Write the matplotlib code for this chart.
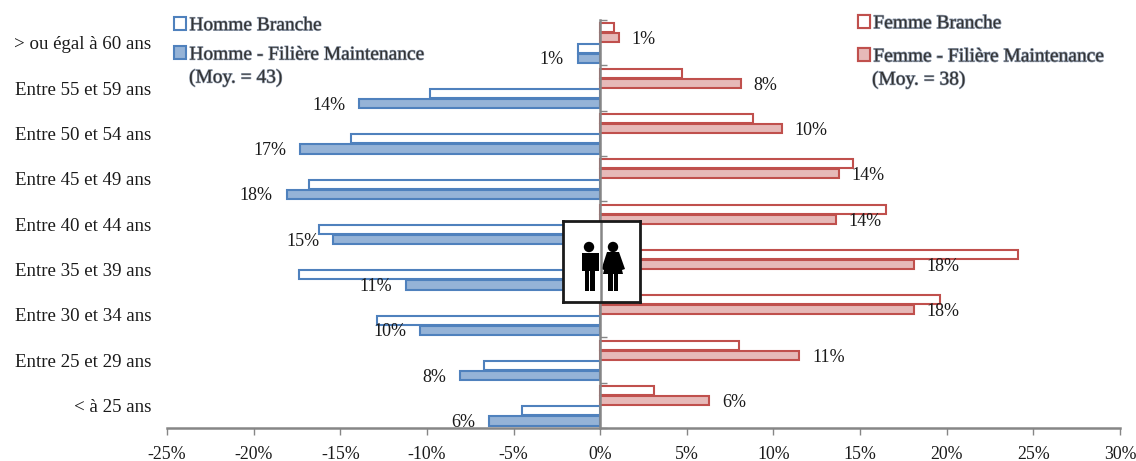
import matplotlib
matplotlib.use("Agg")
import matplotlib.pyplot as plt
import matplotlib.patheffects as pe
from matplotlib.patches import Patch, Circle, Rectangle, Polygon
from matplotlib.ticker import FuncFormatter

plt.rcParams['font.family'] = ['Liberation Serif', 'DejaVu Serif']

categories = ["> ou égal à 60 ans", "Entre 55 et 59 ans", "Entre 50 et 54 ans", "Entre 45 et 49 ans",
              "Entre 40 et 44 ans", "Entre 35 et 39 ans", "Entre 30 et 34 ans", "Entre 25 et 29 ans", "< à 25 ans"]
femme_branche = [0.8, 4.7, 8.8, 14.6, 16.5, 24.1, 19.6, 8.0, 3.1]
femme_filiere = [1.1, 8.1, 10.5, 13.8, 13.6, 18.1, 18.1, 11.5, 6.3]
homme_branche = [-1.3, -9.8, -14.4, -16.8, -16.2, -17.4, -12.9, -6.7, -4.5]
homme_filiere = [-1.3, -13.9, -17.3, -18.1, -15.4, -11.2, -10.4, -8.1, -6.4]
femme_labels = ["1%", "8%", "10%", "14%", "14%", "18%", "18%", "11%", "6%"]
homme_labels = ["1%", "14%", "17%", "18%", "15%", "11%", "10%", "8%", "6%"]
xticks = [-25, -20, -15, -10, -5, 0, 5, 10, 15, 20, 25, 30]

W, H = 1136, 461
BLUE, BLUE_F = "#4F81BD", "#95B3D7"
RED, RED_F = "#C0504D", "#E6B9B8"
GREY = "#868686"
TXT = "#1a1a1a"

fig = plt.figure(figsize=(W / 100, H / 100), dpi=100)
ax = fig.add_axes([167 / W, 1 - 428 / H, (1120 - 167) / W, (428 - 20) / H])
ypos = list(range(len(categories)))
h = 0.2
s = dict(height=h, linewidth=1.5, zorder=2)
ax.barh([y - 0.33 for y in ypos], femme_branche, color="white", edgecolor=RED, **s)
ax.barh([y - 0.105 for y in ypos], femme_filiere, color=RED_F, edgecolor=RED, **s)
ax.barh([y + 0.12 for y in ypos], homme_branche, color="white", edgecolor=BLUE, **s)
ax.barh([y + 0.345 for y in ypos], homme_filiere, color=BLUE_F, edgecolor=BLUE, **s)

ax.set_xlim(-25, 30)
ax.set_ylim(8.5, -0.5)
ax.set_xticks(xticks)
ax.xaxis.set_major_formatter(FuncFormatter(lambda v, _: f"{v:.0f}%"))
ax.tick_params(axis='x', length=5, width=1, color=GREY, labelsize=12.8, labelcolor=TXT, pad=8)
ax.set_yticks([y - 0.5 for y in ypos] + [8.5])
ax.tick_params(axis='y', direction='in', length=5, width=1, color=GREY, labelleft=False)
for sp in ['top', 'right']:
    ax.spines[sp].set_visible(False)
ax.spines['left'].set_position(('data', 0))
for sp in ['left', 'bottom']:
    ax.spines[sp].set_color(GREY)
    ax.spines[sp].set_linewidth(1.8)
    ax.spines[sp].set_zorder(6)

sec = ax.secondary_yaxis('left')
sec.set_yticks(ypos)
sec.set_yticklabels(categories, fontsize=13.6, color=TXT)
sec.tick_params(length=0, pad=11.5)
sec.spines['left'].set_visible(False)

for y, v, t in zip(ypos, femme_filiere, femme_labels):
    ax.annotate(t, (v, y - 0.105), xytext=(9, -1.5), textcoords='offset points',
                ha='left', va='center', fontsize=13, color=TXT, zorder=3)
for y, v, t in zip(ypos, homme_filiere, homme_labels):
    ax.annotate(t, (v, y + 0.345), xytext=(-10, -1.2), textcoords='offset points',
                ha='right', va='center', fontsize=13, color=TXT, zorder=3)

soft = [pe.withStroke(linewidth=0.9, foreground="#9aa6b8")]


def legend(handles, x, y, spacing):
    leg = ax.legend(handles=handles, loc='upper left', bbox_to_anchor=(x / W, 1 - y / H),
                    bbox_transform=fig.transFigure, frameon=False, fontsize=14, labelcolor="#333333",
                    handlelength=0.64, handleheight=0.64, handletextpad=0.15, labelspacing=spacing,
                    borderpad=0, borderaxespad=0)
    for t in leg.get_texts():
        t.set_path_effects(soft)
    ax.add_artist(leg)


legend([Patch(facecolor="white", edgecolor=BLUE, lw=1.5, label="Homme Branche"),
        Patch(facecolor=BLUE_F, edgecolor=BLUE, lw=1.5, label="Homme - Filière Maintenance")], 174, 17, 0.62)
legend([Patch(facecolor="white", edgecolor=RED, lw=1.5, label="Femme Branche"),
        Patch(facecolor=RED_F, edgecolor=RED, lw=1.5, label="Femme - Filière Maintenance")], 858, 15, 0.82)
for x, y, t in [(189, 78, "(Moy. = 43)"), (872, 80, "(Moy. = 38)")]:
    fig.text(x / W, 1 - y / H, t, fontsize=14, color="#333333", ha='left', va='center', path_effects=soft)

# pictogram box, drawn in pixel coordinates of the reference
box = fig.add_axes([563 / W, 1 - 302 / H, 77 / W, 81 / H], zorder=3)
box.set_xlim(563, 640)
box.set_ylim(302, 221)
box.set_xticks([])
box.set_yticks([])
box.set_facecolor("white")
for sp in box.spines.values():
    sp.set_linewidth(2)
    sp.set_color("#1a1a1a")
k = dict(color="black", lw=0)
box.add_patch(Circle((589, 247), 5.2, **k))
box.add_patch(Rectangle((581.5, 253), 17, 18, **k))
box.add_patch(Rectangle((584.5, 270), 4.8, 21, **k))
box.add_patch(Rectangle((590, 270), 4.8, 21, **k))
box.add_patch(Circle((613, 247), 5.2, **k))
box.add_patch(Polygon([(607, 252), (619, 252), (625, 269), (622, 270), (623, 274), (603, 274), (604, 270), (601.5, 269)], **k))
box.add_patch(Rectangle((608, 273), 4.6, 18, **k))
box.add_patch(Rectangle((613.6, 273), 4.6, 18, **k))
box.axvline(600.5, color=GREY, lw=1.8)

fig.savefig("out.png", dpi=100)
